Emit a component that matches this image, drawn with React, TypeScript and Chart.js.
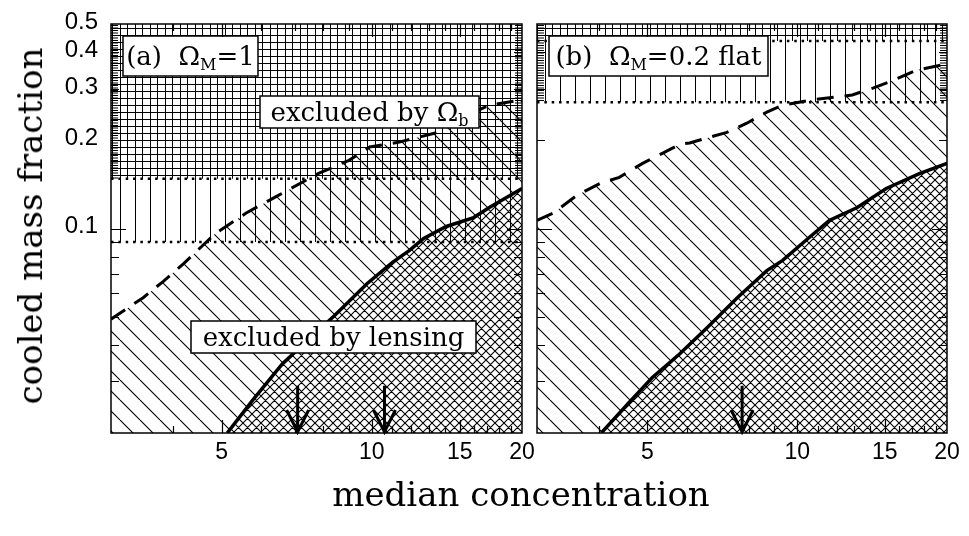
import React, { useEffect, useRef } from "react";
import { Chart, registerables } from "chart.js";
Chart.register(...registerables);

// ---- axis ranges & ticks ----
const X_MIN = 3;
const X_MAX = 20;
const Y_MIN = 0.02;
const Y_MAX = 0.5;
const xMinorTicks = [4, 6, 7, 8, 9, 11, 12, 13, 14, 16, 17, 18, 19];
const xMajorTicks = [5, 10, 15];
const xTickLabels = [5, 10, 15, 20];
const yMinorTicks = [0.03, 0.04, 0.05, 0.06, 0.07, 0.08, 0.09, 0.2, 0.3, 0.4];
const yMajorTicks = [0.1];
const yTickLabels = [0.1, 0.2, 0.3, 0.4, 0.5];

// ---- panel (a) Omega_M = 1 ----
const dashedAx = [3, 3.48, 3.82, 4.2, 4.85, 5.6, 6.4, 7.8, 9.0, 9.9, 11.3, 13.4, 15.9, 17.2, 20];
const dashedAy = [0.049, 0.058, 0.066, 0.076, 0.096, 0.113, 0.128, 0.154, 0.171, 0.19, 0.197, 0.212, 0.248, 0.264, 0.275];
const solidAx = [5.13, 5.76, 6.62, 7.5, 8.41, 9.79, 11.0, 11.9, 12.7, 14.1, 16.0, 17.2, 20];
const solidAy = [0.02, 0.0258, 0.0345, 0.042, 0.0503, 0.0649, 0.0766, 0.0842, 0.0925, 0.1016, 0.109, 0.118, 0.137];
const omegaBA = [0.09, 0.148];
const arrowsA = [7.1, 10.6];

// ---- panel (b) Omega_M = 0.2 flat ----
const dashedBx = [3, 3.23, 3.61, 4.02, 4.39, 4.89, 5.37, 5.81, 6.08, 6.59, 7.22, 7.92, 8.69, 9.35, 10.7, 12.9, 14.2, 15.6, 17.4, 20];
const dashedBy = [0.1066, 0.1127, 0.13, 0.1426, 0.1496, 0.167, 0.181, 0.194, 0.196, 0.204, 0.213, 0.229, 0.25, 0.264, 0.275, 0.286, 0.302, 0.321, 0.348, 0.365];
const solidBx = [4.04, 4.59, 5.11, 5.81, 6.59, 7.58, 8.69, 9.35, 10.4, 11.6, 13.2, 15.1, 17.6, 20];
const solidBy = [0.02, 0.0254, 0.0309, 0.0373, 0.0458, 0.058, 0.0718, 0.0778, 0.091, 0.1066, 0.118, 0.137, 0.154, 0.167];
const omegaBB = [0.27, 0.437];
const arrowsB = [7.75];
const ARROW_TOP = 0.029;

type Part = { t: string; sub?: boolean };
type Box = { x: number; y: number; w: number; h: number; parts: Part[] };

const SERIF = '"DejaVu Serif", serif';
const SANS = '"Liberation Sans", Arial, sans-serif';

function pattern(kind: string): CanvasPattern {
  const c = document.createElement("canvas");
  let w = 20;
  let h = 20;
  if (kind === "cross") { w = 9; h = 9; }
  else if (kind === "vert") { w = 15; h = 15; }
  else if (kind === "grid") { w = 15; h = 7; }
  c.width = w;
  c.height = h;
  const g = c.getContext("2d")!;
  if (kind === "cross") { g.fillStyle = "#fff"; g.fillRect(0, 0, w, h); }
  g.strokeStyle = "#000";
  g.lineWidth = kind === "diag" || kind === "cross" ? 1.1 : 1;
  g.beginPath();
  if (kind === "diag" || kind === "cross") {
    for (const k of [-w, 0, w]) { g.moveTo(k, 0); g.lineTo(k + w, h); }
  }
  if (kind === "cross") {
    for (const k of [-w, 0, w]) { g.moveTo(k + w, 0); g.lineTo(k, h); }
  }
  if (kind === "vert") { g.moveTo(0.5, 0); g.lineTo(0.5, h); }
  if (kind === "grid") { g.moveTo(7.5, 0); g.lineTo(7.5, h); g.moveTo(0, 0.5); g.lineTo(w, 0.5); }
  g.stroke();
  return g.createPattern(c, "repeat")!;
}

const pts = (xs: number[], ys: number[]) => xs.map((x, i) => ({ x, y: ys[i] }));

function drawParts(ctx: CanvasRenderingContext2D, parts: Part[], cx: number, cy: number) {
  const big = `26px ${SERIF}`;
  const small = `16px ${SERIF}`;
  let total = 0;
  for (const p of parts) { ctx.font = p.sub ? small : big; total += ctx.measureText(p.t).width; }
  let x = cx - total / 2;
  ctx.textAlign = "left";
  ctx.textBaseline = "alphabetic";
  ctx.fillStyle = "#000";
  for (const p of parts) {
    ctx.font = p.sub ? small : big;
    ctx.fillText(p.t, x, cy + (p.sub ? 14 : 9));
    x += ctx.measureText(p.t).width;
  }
}

type PanelCfg = {
  dx: number[]; dy: number[]; sx: number[]; sy: number[];
  ob: number[]; arrows: number[]; boxes: Box[]; stripTo: number; yLabels: boolean;
};

function makeChart(canvas: HTMLCanvasElement, p: PanelCfg, pad: { left: number; right: number; top: number; bottom: number }) {
  const deco = {
    id: "deco",
    afterDatasetsDraw(chart: any) {
      const ctx = chart.ctx as CanvasRenderingContext2D;
      const a = chart.chartArea;
      const xs = chart.scales.x;
      const ys = chart.scales.y;
      ctx.save();
      // dense edge strips (hatching artefacts at the frame)
      ctx.strokeStyle = "#000";
      ctx.lineWidth = 1;
      const yEnd = ys.getPixelForValue(p.stripTo);
      ctx.beginPath();
      for (let y = a.top + 1.5; y < yEnd; y += 2.5) {
        ctx.moveTo(a.left, y); ctx.lineTo(a.left + 7, y);
        ctx.moveTo(a.right - 7, y); ctx.lineTo(a.right, y);
      }
      ctx.stroke();
      // arrows
      ctx.lineWidth = 3;
      ctx.lineCap = "butt";
      for (const v of p.arrows) {
        const x = xs.getPixelForValue(v);
        const yt = ys.getPixelForValue(ARROW_TOP);
        const yb = a.bottom - 1;
        ctx.beginPath();
        ctx.moveTo(x, yt); ctx.lineTo(x, yb);
        ctx.moveTo(x - 11, yb - 22); ctx.lineTo(x, yb); ctx.lineTo(x + 11, yb - 22);
        ctx.stroke();
      }
      // labelled boxes
      for (const b of p.boxes) {
        const bx = a.left + b.x;
        const by = a.top + b.y;
        ctx.fillStyle = "#fff";
        ctx.fillRect(bx, by, b.w, b.h);
        ctx.lineWidth = 1.5;
        ctx.strokeStyle = "#000";
        ctx.strokeRect(bx, by, b.w, b.h);
        drawParts(ctx, b.parts, bx + b.w / 2, by + b.h / 2);
      }
      ctx.restore();
    },
    afterDraw(chart: any) {
      const ctx = chart.ctx as CanvasRenderingContext2D;
      const a = chart.chartArea;
      const xs = chart.scales.x;
      const ys = chart.scales.y;
      ctx.save();
      ctx.strokeStyle = "#000";
      ctx.lineWidth = 1.5;
      ctx.strokeRect(a.left, a.top, a.right - a.left, a.bottom - a.top);
      ctx.lineWidth = 1.2;
      ctx.beginPath();
      const xt = (v: number, len: number) => {
        const x = Math.round(xs.getPixelForValue(v)) + 0.5;
        ctx.moveTo(x, a.bottom); ctx.lineTo(x, a.bottom - len);
        ctx.moveTo(x, a.top); ctx.lineTo(x, a.top + len);
      };
      const yt = (v: number, len: number) => {
        const y = Math.round(ys.getPixelForValue(v)) + 0.5;
        ctx.moveTo(a.left, y); ctx.lineTo(a.left + len, y);
        ctx.moveTo(a.right, y); ctx.lineTo(a.right - len, y);
      };
      xMinorTicks.forEach((v) => xt(v, 7));
      xMajorTicks.forEach((v) => xt(v, 13));
      yMinorTicks.forEach((v) => yt(v, 8));
      yMajorTicks.forEach((v) => yt(v, 15));
      ctx.stroke();
      ctx.fillStyle = "#000";
      ctx.font = `23px ${SANS}`;
      ctx.textAlign = "center";
      ctx.textBaseline = "top";
      xTickLabels.forEach((v) => ctx.fillText(String(v), xs.getPixelForValue(v), a.bottom + 8));
      if (p.yLabels) {
        ctx.font = `24px ${SANS}`;
        ctx.textAlign = "right";
        ctx.textBaseline = "middle";
        yTickLabels.forEach((v) => ctx.fillText(String(v), a.left - 13, ys.getPixelForValue(v) - 2));
      }
      ctx.restore();
    },
  };

  return new Chart(canvas, {
    type: "line",
    data: {
      datasets: [
        { data: pts([X_MIN, X_MAX], [p.ob[1], p.ob[1]]), borderColor: "#000", borderWidth: 2.5, borderDash: [2.5, 4.85], fill: "end", backgroundColor: pattern("grid"), pointRadius: 0 },
        { data: pts([X_MIN, X_MAX], [p.ob[0], p.ob[0]]), borderColor: "#000", borderWidth: 2.5, borderDash: [2.5, 4.85], fill: "end", backgroundColor: pattern("vert"), pointRadius: 0 },
        { data: pts(p.sx, p.sy), borderColor: "#000", borderWidth: 3.5, fill: "start", backgroundColor: pattern("cross"), pointRadius: 0 },
        { data: pts(p.dx, p.dy), borderColor: "#000", borderWidth: 3, borderDash: [17, 11], fill: "start", backgroundColor: pattern("diag"), pointRadius: 0 },
      ] as any,
    },
    options: {
      responsive: false,
      animation: false,
      layout: { padding: pad },
      elements: { line: { tension: 0 } },
      scales: {
        x: { type: "logarithmic", min: X_MIN, max: X_MAX, display: false },
        y: { type: "logarithmic", min: Y_MIN, max: Y_MAX, display: false },
      },
      plugins: {
        legend: { display: false },
        tooltip: { enabled: false },
        filler: { drawTime: "beforeDatasetsDraw" },
      } as any,
    },
    plugins: [deco],
  });
}

const boxesA: Box[] = [
  { x: 12, y: 12, w: 135, h: 40, parts: [{ t: "(a)  Ω" }, { t: "M", sub: true }, { t: "=1" }] },
  { x: 149, y: 72, w: 219, h: 32, parts: [{ t: "excluded by Ω" }, { t: "b", sub: true }] },
  { x: 80, y: 297, w: 285, h: 32, parts: [{ t: "excluded by lensing" }] },
];
const boxesB: Box[] = [
  { x: 12, y: 12, w: 219, h: 40, parts: [{ t: "(b)  Ω" }, { t: "M", sub: true }, { t: "=0.2 flat" }] },
];

export default function App() {
  const refA = useRef<HTMLCanvasElement>(null);
  const refB = useRef<HTMLCanvasElement>(null);
  useEffect(() => {
    const ca = makeChart(refA.current!, { dx: dashedAx, dy: dashedAy, sx: solidAx, sy: solidAy, ob: omegaBA, arrows: arrowsA, boxes: boxesA, stripTo: omegaBA[1], yLabels: true }, { left: 111, right: 28, top: 24, bottom: 103 });
    const cb = makeChart(refB.current!, { dx: dashedBx, dy: dashedBy, sx: solidBx, sy: solidBy, ob: omegaBB, arrows: arrowsB, boxes: boxesB, stripTo: omegaBB[0], yLabels: false }, { left: 7, right: 22, top: 24, bottom: 103 });
    return () => { ca.destroy(); cb.destroy(); };
  }, []);
  return (
    <div style={{ position: "absolute", left: 0, top: 0, width: 969, height: 536, background: "#fff", overflow: "hidden" }}>
      <canvas ref={refA} width={550} height={536} style={{ position: "absolute", left: 0, top: 0 }} />
      <canvas ref={refB} width={439} height={536} style={{ position: "absolute", left: 530, top: 0 }} />
      <div style={{ position: "absolute", left: 30, top: 226, transform: "translate(-50%, -50%) rotate(-90deg)", whiteSpace: "nowrap", fontFamily: SERIF, fontSize: 34, color: "#000", lineHeight: 1 }}>
        cooled mass fraction
      </div>
      <div style={{ position: "absolute", left: 521, top: 494, transform: "translate(-50%, -50%)", whiteSpace: "nowrap", fontFamily: SERIF, fontSize: 34, color: "#000", lineHeight: 1 }}>
        median concentration
      </div>
    </div>
  );
}
